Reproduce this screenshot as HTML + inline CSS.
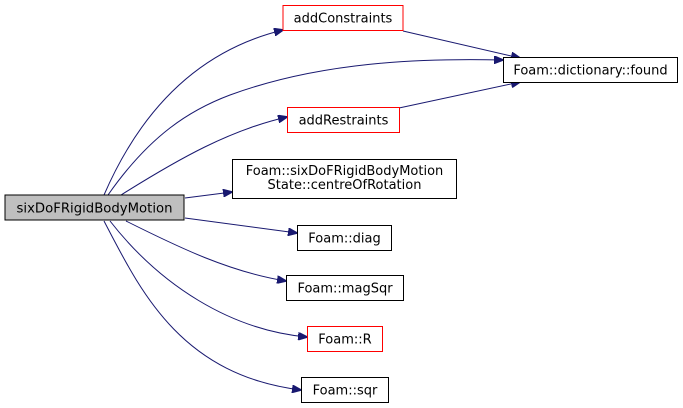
<!DOCTYPE html>
<html><head><meta charset="utf-8"><style>
html,body{margin:0;padding:0;background:#fff;}
svg{display:block;}
text{font-family:"DejaVu Sans","Liberation Sans",sans-serif;font-size:13px;fill:#000;}
</style></head><body>
<svg width="683" height="408" viewBox="0 0 683 408" xmlns="http://www.w3.org/2000/svg">
<defs>
<marker id="a" markerWidth="10" markerHeight="8" refX="9" refY="4" orient="auto" markerUnits="userSpaceOnUse">
<path d="M0,0 L10,4 L0,8 Z" fill="#191970" stroke="#191970"/>
</marker>
</defs>
<g fill="none" stroke="#191970" stroke-width="1" marker-end="url(#a)">
<path d="M104,195 C130,135 180,55 283,30"/>
<path d="M108,195 C150,135 190,110 230,95 C320,62 420,58 503,60"/>
<path d="M121,195 C180,158 230,130 287,117"/>
<path d="M185,198 L232,192"/>
<path d="M185,218 L297,233"/>
<path d="M126,221 C180,248 230,272 286,281"/>
<path d="M110,221 C160,285 230,330 307,337"/>
<path d="M104,221 C140,290 180,375 301,390"/>
<path d="M403,31 L520,58"/>
<path d="M399,108 L520,82"/>
</g>
<rect x="5" y="195" width="179" height="25" fill="#bfbfbf" stroke="#000"/>
<text x="94.5" y="212.5" text-anchor="middle" textLength="156" lengthAdjust="spacingAndGlyphs">sixDoFRigidBodyMotion</text>
<rect x="283" y="5.5" width="120" height="25" fill="#fff" stroke="#ff0000"/>
<text x="343" y="22.5" text-anchor="middle">addConstraints</text>
<rect x="503.5" y="57.5" width="174" height="25" fill="#fff" stroke="#000"/>
<text x="590.5" y="74.5" text-anchor="middle">Foam::dictionary::found</text>
<rect x="287.5" y="107.5" width="112" height="25" fill="#fff" stroke="#ff0000"/>
<text x="343.5" y="124.5" text-anchor="middle">addRestraints</text>
<rect x="232.5" y="159.5" width="224" height="39" fill="#fff" stroke="#000"/>
<text x="344.5" y="175" text-anchor="middle">Foam::sixDoFRigidBodyMotion</text>
<text x="344.5" y="189" text-anchor="middle">State::centreOfRotation</text>
<rect x="297.5" y="225.5" width="94" height="25" fill="#fff" stroke="#000"/>
<text x="344.5" y="242.5" text-anchor="middle">Foam::diag</text>
<rect x="286.5" y="275.5" width="117" height="25" fill="#fff" stroke="#000"/>
<text x="345" y="292.5" text-anchor="middle">Foam::magSqr</text>
<rect x="307.5" y="326.5" width="75" height="25" fill="#fff" stroke="#ff0000"/>
<text x="345" y="343.5" text-anchor="middle">Foam::R</text>
<rect x="301.5" y="377.5" width="87" height="25" fill="#fff" stroke="#000"/>
<text x="345" y="394.5" text-anchor="middle">Foam::sqr</text>
</svg>
</body></html>
